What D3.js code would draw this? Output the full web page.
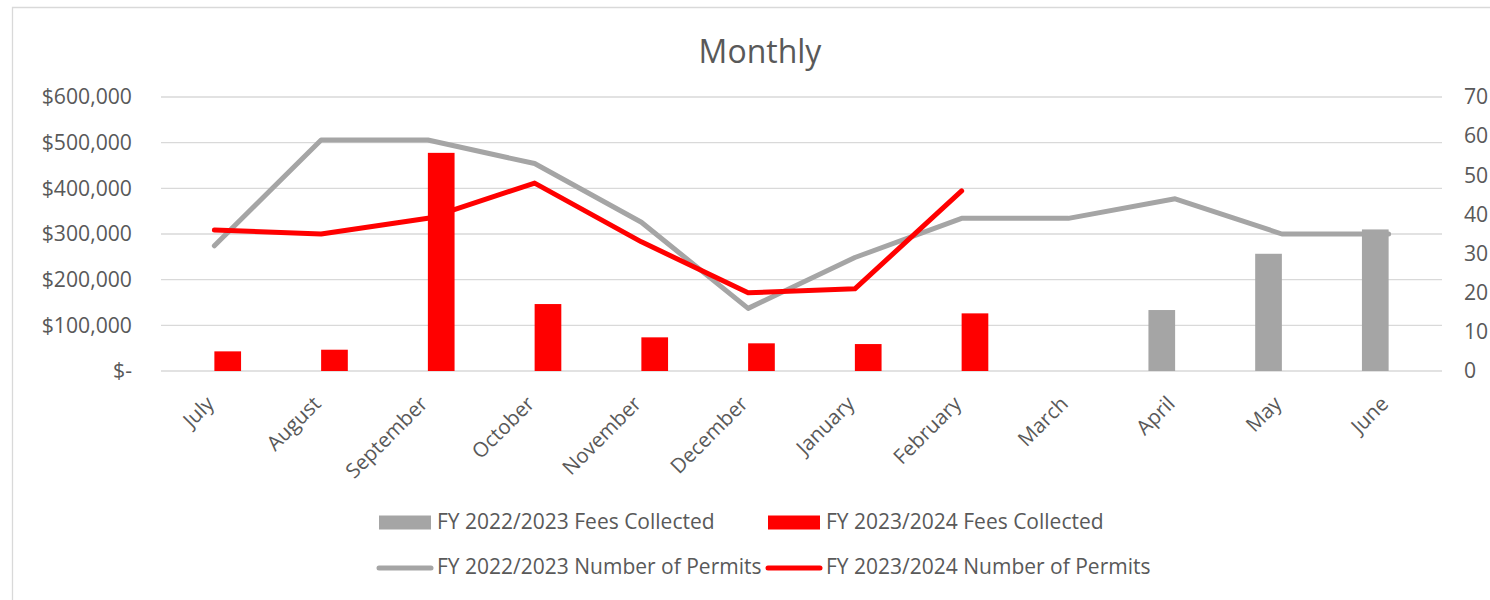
<!DOCTYPE html>
<html>
<head>
<meta charset="utf-8">
<script src="https://cdn.jsdelivr.net/npm/d3@7"></script>
<style>
  html, body { margin: 0; padding: 0; background: #fff; }
  #chart text { font-family: "Open Sans", sans-serif; fill: #595959; }
</style>
</head>
<body>
<div id="chart"></div>
<script>
// chart values
const months = ["July", "August", "September", "October", "November", "December",
                "January", "February", "March", "April", "May", "June"];
const fees2223 = [null, null, null, null, null, null, null, null, null, 133500, 256700, 310000];
const fees2324 = [43000, 46600, 477700, 146600, 73700, 60600, 59000, 126200, null, null, null, null];
const permits2223 = [32, 59, 59, 53, 38, 16, 29, 39, 39, 44, 35, 35];
const permits2324 = [36, 35, 39, 48, 33, 20, 21, 46, null, null, null, null];
const feeTicks = [0, 100000, 200000, 300000, 400000, 500000, 600000];
const permitTicks = [0, 10, 20, 30, 40, 50, 60, 70];

const width = 1490, height = 600;
const margin = {top: 97, right: 48, bottom: 229, left: 161};
const grey = "#a5a5a5", red = "#ff0000";

const svg = d3.select("#chart").append("svg")
    .attr("width", width)
    .attr("height", height);

// chart area border (only top and left edges are inside the picture)
svg.append("path")
    .attr("d", "M12.5,700V7.5H1600")
    .attr("fill", "none")
    .attr("stroke", "#d9d9d9")
    .attr("stroke-width", 1.3);

svg.append("text")
    .attr("x", 760)
    .attr("y", 63)
    .attr("text-anchor", "middle")
    .style("font-size", "32px")
    .text("Monthly");

let x = d3.scaleBand()
    .domain(months)
    .range([margin.left, width - margin.right])
    .padding(0);

// two bars per month, each a quarter of the band
let x1 = d3.scaleBand()
    .domain(["fy2223", "fy2324"])
    .range([0, x.bandwidth()])
    .paddingInner(0)
    .paddingOuter(1);

let yFees = d3.scaleLinear()
    .domain([0, 600000])
    .range([height - margin.bottom, margin.top]);

let yPermits = d3.scaleLinear()
    .domain([0, 70])
    .range([height - margin.bottom, margin.top]);

// gridlines
svg.append("g")
    .selectAll("line")
    .data(feeTicks)
    .enter()
    .append("line")
    .attr("x1", margin.left)
    .attr("x2", width - margin.right)
    .attr("y1", d => yFees(d))
    .attr("y2", d => yFees(d))
    .attr("stroke", "#d9d9d9")
    .attr("stroke-width", 1.3);

let fmt = d3.format(",");
let leftAxis = svg.append("g")
    .attr("transform", "translate(" + margin.left + ",0)")
    .call(d3.axisLeft(yFees)
        .tickValues(feeTicks)
        .tickSize(0)
        .tickPadding(29)
        .tickFormat(d => d === 0 ? "$-" : "$" + fmt(d)));

let rightAxis = svg.append("g")
    .attr("transform", "translate(" + (width - margin.right) + ",0)")
    .call(d3.axisRight(yPermits)
        .tickValues(permitTicks)
        .tickSize(0)
        .tickPadding(22)
        .tickFormat(d3.format("d")));

let bottomAxis = svg.append("g")
    .attr("transform", "translate(0," + (height - margin.bottom) + ")")
    .call(d3.axisBottom(x).tickSize(0));

[leftAxis, rightAxis, bottomAxis].forEach(a => {
    a.select(".domain").remove();
    a.selectAll("text").style("font-size", "21.2px").attr("fill", "#595959");
});

bottomAxis.selectAll("text")
    .style("font-size", "20.5px")
    .attr("text-anchor", "end")
    .attr("dy", null)
    .attr("y", 0)
    .attr("transform", "translate(1,34) rotate(-45)");

// bars
let barData = [];
months.forEach((m, i) => {
    if (fees2223[i] != null) barData.push({month: m, key: "fy2223", value: fees2223[i]});
    if (fees2324[i] != null) barData.push({month: m, key: "fy2324", value: fees2324[i]});
});

svg.append("g")
    .selectAll("rect")
    .data(barData)
    .enter()
    .append("rect")
    .attr("x", d => x(d.month) + x1(d.key))
    .attr("width", x1.bandwidth())
    .attr("y", d => yFees(d.value))
    .attr("height", d => yFees(0) - yFees(d.value))
    .attr("fill", d => d.key === "fy2223" ? grey : red);

// lines
let line = d3.line()
    .defined(d => d.value != null)
    .x(d => x(d.month) + x.bandwidth() / 2)
    .y(d => yPermits(d.value));

[[permits2223, grey], [permits2324, red]].forEach(([vals, colour]) => {
    svg.append("path")
        .datum(months.map((m, i) => ({month: m, value: vals[i]})))
        .attr("d", line)
        .attr("fill", "none")
        .attr("stroke", colour)
        .attr("stroke-width", 5)
        .attr("stroke-linecap", "round")
        .attr("stroke-linejoin", "round");
});

// legend
let legendItems = [
    {label: "FY 2022/2023 Fees Collected", colour: grey, type: "bar", x: 379, y: 529},
    {label: "FY 2023/2024 Fees Collected", colour: red, type: "bar", x: 768, y: 529},
    {label: "FY 2022/2023 Number of Permits", colour: grey, type: "line", x: 379, y: 574},
    {label: "FY 2023/2024 Number of Permits", colour: red, type: "line", x: 768, y: 574}
];

let legend = svg.append("g")
    .selectAll("g")
    .data(legendItems)
    .enter()
    .append("g")
    .attr("transform", d => "translate(" + d.x + "," + d.y + ")");

legend.filter(d => d.type === "bar")
    .append("rect")
    .attr("x", 0)
    .attr("y", -13.5)
    .attr("width", 52)
    .attr("height", 14)
    .attr("fill", d => d.colour);

legend.filter(d => d.type === "line")
    .append("line")
    .attr("x1", 0)
    .attr("x2", 52)
    .attr("y1", -6)
    .attr("y2", -6)
    .attr("stroke", d => d.colour)
    .attr("stroke-width", 5)
    .attr("stroke-linecap", "round");

legend.append("text")
    .attr("x", 58)
    .attr("y", 0)
    .style("font-size", "21px")
    .text(d => d.label);
</script>
</body>
</html>
